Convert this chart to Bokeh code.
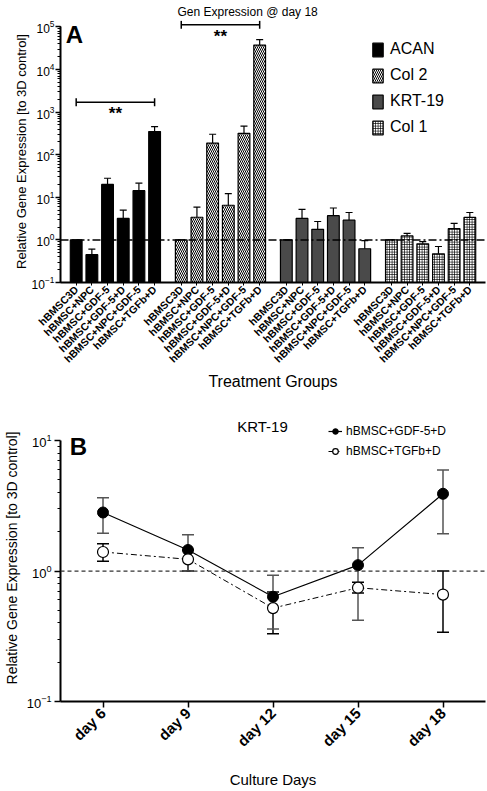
import math
from bokeh.plotting import figure
from bokeh.models import (FactorRange, ColumnDataSource, Span, Label, Legend, LegendItem,
                          FixedTicker, LogTickFormatter)
from bokeh.layouts import column
from bokeh.embed import file_html
from bokeh.resources import INLINE
from bokeh.core.properties import value

FONT = "Liberation Sans"

# ---------------- data: panel A ----------------
genes = ["ACAN", "Col 2", "KRT-19", "Col 1"]
treatments = ["hBMSC3D", "hBMSC+NPC", "hBMSC+GDF-5", "hBMSC+GDF-5+D",
              "hBMSC+NPC+GDF-5", "hBMSC+TGFb+D"]
acan_mean = [1.0, 0.45, 20.0, 3.2, 14.3, 350.0]
acan_upper = [1.0, 0.61, 28.0, 5.0, 21.5, 455.0]
col2_mean = [1.0, 3.4, 187.0, 6.5, 318.0, 37500.0]
col2_upper = [1.0, 5.9, 302.0, 12.2, 470.0, 50500.0]
krt19_mean = [1.0, 3.2, 1.77, 3.7, 2.9, 0.62]
krt19_upper = [1.0, 5.2, 2.7, 5.6, 4.4, 0.96]
col1_mean = [1.0, 1.24, 0.81, 0.47, 1.83, 3.37]
col1_upper = [1.0, 1.43, 0.91, 0.70, 2.44, 4.4]
bracket_genes = ["ACAN", "Col 2"]
bracket_level = [1700.0, 112000.0]
star_level = [950.0, 59000.0]

# ---------------- data: panel B ----------------
days = ["day 6", "day 9", "day 12", "day 15", "day 18"]
gdf_mean = [2.81, 1.45, 0.635, 1.11, 3.91]
gdf_upper = [3.64, 1.90, 0.93, 1.51, 5.95]
gdf_lower = [1.95, 1.0, 0.36, 0.42, 1.93]
tgf_mean = [1.40, 1.23, 0.52, 0.745, 0.66]
tgf_upper = [1.62, 1.45, 0.69, 0.82, 1.0]
tgf_lower = [1.19, 1.0, 0.33, 0.68, 0.34]

YTITLE = "Relative Gene Expression [to 3D control]"


def style_axis(a, label, label_size, tick_size, bold_ticks=False):
    a.axis_label = label
    a.axis_label_text_font = FONT
    a.axis_label_text_font_size = label_size
    a.axis_label_text_font_style = "normal"
    a.axis_label_text_color = "black"
    a.major_label_text_font = FONT
    a.major_label_text_font_size = tick_size
    a.major_label_text_color = "black"
    a.major_label_text_font_style = "bold" if bold_ticks else "normal"
    a.axis_line_width = 2
    a.axis_line_color = "black"
    a.major_tick_line_color = "black"
    a.minor_tick_line_color = "black"
    a.major_tick_in = 0
    a.minor_tick_in = 0


def text_label(x, y, text, size, bold=False):
    return Label(x=x, x_units="screen", y=y, text=text, text_font=FONT,
                 text_font_size=size, text_font_style="bold" if bold else "normal",
                 text_color="black", text_align="center", text_baseline="middle")


# ================= Panel A =================
factors = [(g, t) for g in genes for t in treatments]
xr = FactorRange(*factors, factor_padding=0.0, group_padding=0.7,
                 range_padding=0.5, range_padding_units="absolute")
p1 = figure(width=487, height=393, x_range=xr, y_axis_type="log",
            y_range=(0.1, 10 ** 5.15), output_backend="svg", toolbar_location=None,
            min_border_top=20, min_border_right=2, min_border_left=40, min_border_bottom=110)
p1.grid.visible = False
p1.outline_line_color = None
p1.title.text = "Gen Expression @ day 18"
p1.title.text_font = FONT
p1.title.text_font_size = "12px"
p1.title.text_font_style = "normal"
p1.title.text_color = "black"
p1.title.align = "left"
p1.title.offset = 117
p1.title.standoff = 4

styles = {
    "ACAN": dict(fill_color="black"),
    "Col 2": dict(fill_color="white", hatch_pattern="\\", hatch_color="black",
                  hatch_scale=4, hatch_weight=1.0),
    "KRT-19": dict(fill_color="#4a4a4a"),
    "Col 1": dict(fill_color="white", hatch_pattern="+", hatch_color="black",
                  hatch_scale=2.5, hatch_weight=0.8),
}
series = {"ACAN": (acan_mean, acan_upper), "Col 2": (col2_mean, col2_upper),
          "KRT-19": (krt19_mean, krt19_upper), "Col 1": (col1_mean, col1_upper)}

legend_items = []
for g in genes:
    m, u = series[g]
    src = ColumnDataSource(dict(x=[(g, t) for t in treatments], top=m, hi=u))
    r = p1.vbar(x="x", top="top", bottom=0.1, width=0.75, source=src,
                line_color="black", line_width=1.2, **styles[g])
    p1.segment(x0="x", x1="x", y0="top", y1="hi", source=src, line_color="black", line_width=1.2)
    p1.scatter(x="x", y="hi", source=src, marker="dash", size=7, line_color="black", line_width=1.2)
    legend_items.append(LegendItem(label=g, renderers=[r]))

# significance brackets
for g, lv, sl in zip(bracket_genes, bracket_level, star_level):
    xa = (g, treatments[0])
    xb = (g, treatments[-1])
    p1.segment(x0=[xa], x1=[xb], y0=[lv], y1=[lv], line_color="black", line_width=1.5)
    p1.scatter(x=[xa, xb], y=[lv, lv], marker="dash", angle=math.pi / 2, size=8,
               line_color="black", line_width=1.5)
    p1.text(x=[(g, treatments[3], -0.5)], y=[sl], text=["**"], text_align="center",
            text_baseline="middle", text_font=value(FONT), text_font_size="17px",
            text_font_style="bold", text_color="black")

p1.add_layout(Span(location=1.0, dimension="width", line_color="black",
                   line_dash="8 3 2 3", line_width=1.5))

leg1 = Legend(items=legend_items, location=(311, 146), glyph_height=17, glyph_width=13,
              spacing=8, padding=0, margin=0, label_standoff=6,
              label_text_font=FONT, label_text_font_size="16px", label_text_color="black",
              background_fill_alpha=0, border_line_color=None)
p1.add_layout(leg1)

p1.add_layout(text_label(14, 10 ** 4.83, "A", "24px", bold=True))

ax = p1.yaxis[0]
style_axis(ax, YTITLE, "13px", "12px")
ax.bounds = (0.1, 1e5)
ax.axis_label_standoff = 0
ax.major_label_standoff = 1
ax.major_tick_out = 5
ax.minor_tick_out = 3
ax.major_tick_line_width = 1.5

xa1 = p1.xaxis[0]
style_axis(xa1, "Treatment Groups", "16px", "10.5px", bold_ticks=True)
xa1.major_label_orientation = math.pi / 4
xa1.major_label_standoff = 2
xa1.group_text_font_size = "0px"
xa1.group_text_color = None
xa1.separator_line_color = None
xa1.major_tick_out = 3
xa1.axis_label_standoff = 1

# ================= Panel B =================
p2 = figure(width=487, height=397, x_range=FactorRange(*days, range_padding=0),
            y_axis_type="log", y_range=(0.1, 10 ** 1.2), output_backend="svg",
            toolbar_location=None, min_border_top=21, min_border_right=2,
            min_border_left=60, min_border_bottom=88)
p2.grid.visible = False
p2.outline_line_color = None

p2.add_layout(Span(location=1.0, dimension="width", line_color="#333333",
                   line_dash="4 3", line_width=1.2))

src_g = ColumnDataSource(dict(x=days, m=gdf_mean, lo=gdf_lower, hi=gdf_upper))
src_t = ColumnDataSource(dict(x=days, m=tgf_mean, lo=tgf_lower, hi=tgf_upper))

for src, col in ((src_t, "black"), (src_g, "#555555")):
    p2.segment(x0="x", x1="x", y0="lo", y1="hi", source=src, line_color=col, line_width=1.5)
    p2.scatter(x="x", y="lo", source=src, marker="dash", size=12, line_color=col, line_width=1.5)
    p2.scatter(x="x", y="hi", source=src, marker="dash", size=12, line_color=col, line_width=1.5)

lg = p2.line(x="x", y="m", source=src_g, line_color="black", line_width=1.2)
sg = p2.scatter(x="x", y="m", source=src_g, marker="circle", size=11,
                fill_color="black", line_color="black")
lt = p2.line(x="x", y="m", source=src_t, line_color="black", line_width=1.0,
             line_dash="6 3 2 3")
st = p2.scatter(x="x", y="m", source=src_t, marker="circle", size=11,
                fill_color="white", line_color="black", line_width=1.2)

leg2 = Legend(items=[LegendItem(label="hBMSC+GDF-5+D", renderers=[lg, sg]),
                     LegendItem(label="hBMSC+TGFb+D", renderers=[lt, st])],
              location=(268, 243), glyph_height=14, glyph_width=14, spacing=6,
              padding=0, margin=0, label_standoff=4, label_text_font=FONT,
              label_text_font_size="12px", label_text_color="black",
              background_fill_alpha=0, border_line_color=None)
p2.add_layout(leg2)

p2.add_layout(text_label(202, 10 ** 1.105, "KRT-19", "15px"))
p2.add_layout(text_label(18, 10 ** 0.955, "B", "24px", bold=True))

ay = p2.yaxis[0]
style_axis(ay, YTITLE, "14px", "13px")
ay.bounds = (0.1, 10)
ay.ticker = FixedTicker(ticks=[0.1, 1, 10],
                        minor_ticks=[0.2, 0.3, 0.4, 0.5, 0.6, 0.7, 0.8, 0.9,
                                     2, 3, 4, 5, 6, 7, 8, 9])
ay.formatter = LogTickFormatter()
ay.axis_label_standoff = 4
ay.major_label_standoff = 3
ay.major_tick_out = 6
ay.minor_tick_out = 3
ay.major_tick_line_width = 1.5

ax2 = p2.xaxis[0]
style_axis(ax2, "Culture Days", "15px", "15px", bold_ticks=True)
ax2.major_label_orientation = math.pi / 4
ax2.major_label_standoff = 3
ax2.major_tick_out = 6
ax2.major_tick_line_width = 1.5
ax2.axis_label_standoff = 12

layout = column(p1, p2, spacing=0)
open("out.html", "w").write(file_html(layout, INLINE))
